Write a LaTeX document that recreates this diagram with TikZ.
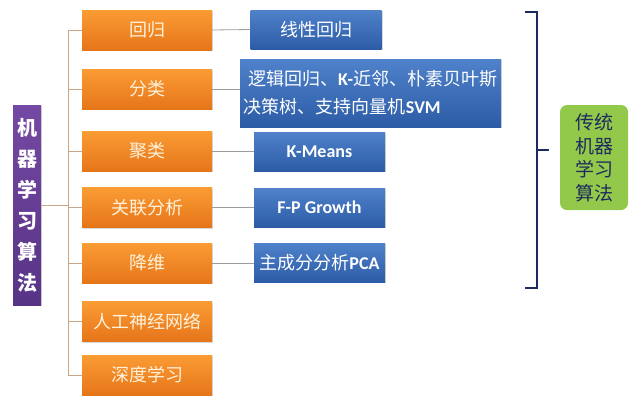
\documentclass[tikz,border=0pt]{standalone}
\usepackage{fontspec}
\setmainfont{Noto Sans CJK SC}
\newfontfamily\latfont{Carlito}
\usetikzlibrary{positioning, shadows}
\newcommand{\eng}[1]{{\latfont\bfseries #1}}

\definecolor{orTop}{HTML}{FA9C34}
\definecolor{orBot}{HTML}{E6751A}
\definecolor{orTxt}{HTML}{FFF1DA}
\definecolor{blTop}{HTML}{4F82CA}
\definecolor{blBot}{HTML}{2C5CA6}
\definecolor{puTop}{HTML}{7449A3}
\definecolor{puBot}{HTML}{573386}
\definecolor{grFill}{HTML}{93C94B}
\definecolor{navy}{HTML}{1F2A5E}
\definecolor{trunkCol}{HTML}{C9A688}
\definecolor{linkCol}{HTML}{9C9C9C}

\tikzset{
  alg/.style={minimum width=130, minimum height=40, inner sep=0pt,
    top color=orTop, bottom color=orBot, text=orTxt,
    font=\fontsize{18}{20}\selectfont,
    drop shadow={shadow xshift=1.2pt, shadow yshift=-1.2pt, opacity=0.3}},
  method/.style={minimum width=131, minimum height=39, inner sep=0pt,
    top color=blTop, bottom color=blBot, text=white,
    font=\fontsize{18}{20}\selectfont,
    drop shadow={shadow xshift=1.2pt, shadow yshift=-1.2pt, opacity=0.3}},
  trunk/.style={draw=trunkCol, line width=0.9pt},
  link/.style={draw=linkCol, line width=0.8pt}
}

\begin{document}
\begin{tikzpicture}[x=1pt, y=-1pt]
\useasboundingbox (0,0) rectangle (632,400);

% Root: machine learning algorithms
\node[minimum width=28, minimum height=200, inner sep=0pt,
  top color=puTop, bottom color=puBot, text=white,
  font=\fontsize{20}{31}\selectfont\bfseries, align=center,
  drop shadow={shadow xshift=1.2pt, shadow yshift=-1.2pt, opacity=0.3}]
  (ml) at (27,205) {机\\器\\学\\习\\算\\法};

% Algorithm families
\foreach \i/\y/\txt in {1/30/回归, 2/89/分类, 3/151/聚类, 4/207.5/关联分析,
                        5/263/降维, 6/321.5/人工神经网络, 7/375/深度学习}
  \node[alg] (alg\i) at (147,\y) {\txt};

% Trunk
\coordinate (tk) at (68,0);
\draw[trunk] (ml.east) -- (ml.east -| tk);
\draw[trunk] (tk |- alg1.west) -- (tk |- alg7.west);
\foreach \i in {1,...,7}
  \draw[trunk] (tk |- alg\i.west) -- (alg\i.west);

% Methods
\node[method] (linreg) at (316,29.5) {线性回归};
\node[method, minimum width=261, minimum height=68, align=left,
  font=\fontsize{18}{28}\selectfont]
  (clsm) at (370.5,93) {\ 逻辑回归、\eng{K-}近邻、朴素贝叶斯\\决策树、支持向量机\eng{SVM}};
\node[method, font=\latfont\bfseries\fontsize{18}{20}\selectfont] (kmeans) at (319.5,151.5) {K-Means};
\node[method, font=\latfont\bfseries\fontsize{18}{20}\selectfont] (fpg) at (319.5,207.5) {F-P Growth};
\node[method] (pca) at (319.5,262.5) {主成分分析\eng{PCA}};

\draw[link] (alg1.east) -- (linreg.west);
\draw[link] (alg2.east) -- (alg2.east -| clsm.west);
\draw[link] (alg3.east) -- (alg3.east -| kmeans.west);
\draw[link] (alg4.east) -- (alg4.east -| fpg.west);
\draw[link] (alg5.east) -- (alg5.east -| pca.west);

% Bracket and traditional algorithms
\coordinate (brTop) at (525,12);
\coordinate (brBot) at (525,288);
\coordinate (brMid) at (537,150);
\draw[navy, line width=1.3pt] (brTop) -- ++(12,0) -- ++(0,276) -- (brBot);
\draw[navy, line width=1.3pt] (brMid) -- ++(12,0);
\node[fill=grFill, rounded corners=7pt, minimum width=68, minimum height=105,
  inner sep=0pt, text=navy, align=center, font=\fontsize{19}{23.5}\selectfont]
  (trad) at (594,157.5) {传统\\机器\\学习\\算法};
\end{tikzpicture}
\end{document}
